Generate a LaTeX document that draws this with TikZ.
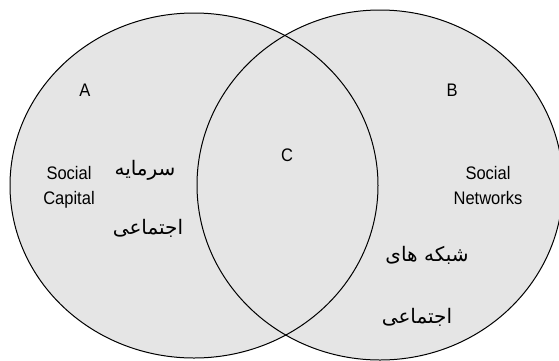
\documentclass[tikz,border=0pt]{standalone}
\usepackage{fontspec}
\setmainfont{Liberation Sans}
\newfontfamily\arabicfont[Script=Arabic]{DejaVu Sans}
\TeXXeTstate=1
\newcommand{\tallerA}[1]{\scalebox{1}[1.1]{#1}}
\begin{document}
\begin{tikzpicture}[x=1pt,y=-1pt,
  setfill/.style={fill=gray!20},
  setline/.style={draw=black,line width=1pt},
  lat/.style={font=\fontsize{16.5}{25}\selectfont,align=center,inner sep=0pt},
  ar/.style={font=\arabicfont\fontsize{20}{24}\selectfont,inner sep=0pt}]
\useasboundingbox (0,0) rectangle (559,360);
\clip (0,0) rectangle (559,360);
\fill[setfill] (194,185.5) ellipse [x radius=184, y radius=172.5];
\fill[setfill] (380,185) ellipse [x radius=183, y radius=175];
\draw[setline] (194,185.5) ellipse [x radius=184, y radius=172.5];
\draw[setline] (380,185) ellipse [x radius=183, y radius=175];
\node[lat] (A) at (85,90) {\tallerA{A}};
\node[lat] (B) at (452,90) {\tallerA{B}};
\node[lat] (C) at (287,155) {\tallerA{C}};
\node[lat] (sc) at (69,187) {\tallerA{Social}\\\tallerA{Capital}};
\node[lat] (sn) at (488,186) {\tallerA{Social}\\\tallerA{Networks}};
\node[ar] (a1) at (145,170) {\beginR سرمایه\endR};
\node[ar] (a2) at (148,228) {\beginR اجتماعی\endR};
\node[ar] (b1) at (427,255) {\beginR شبکه های\endR};
\node[ar] (b2) at (417,317) {\beginR اجتماعی\endR};
\end{tikzpicture}
\end{document}
